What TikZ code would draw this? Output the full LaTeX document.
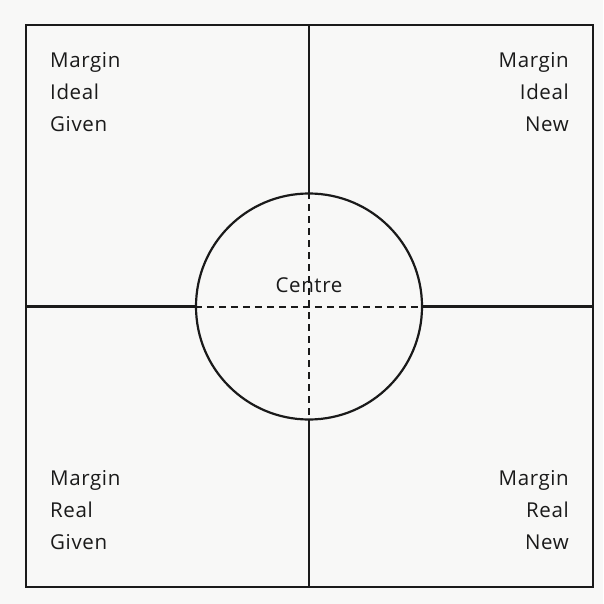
\documentclass[tikz,border=0pt]{standalone}
\usepackage{fontspec}
\setmainfont{Open Sans}[LetterSpace=3]
\definecolor{ink}{HTML}{1A1A1A}
\definecolor{paper}{HTML}{F8F8F7}
\begin{document}
\begin{tikzpicture}[x=1pt,y=-1pt,
  frame/.style={draw=ink,line width=2.2pt},
  divider/.style={draw=ink,line width=2.2pt},
  dashline/.style={draw=ink,line width=2pt,dash pattern=on 7pt off 5pt},
  lbl/.style={font=\fontsize{20.5}{32}\selectfont,text=ink,inner sep=0pt},
  lblL/.style={lbl,align=left,anchor=north west},
  lblR/.style={lbl,align=right,anchor=north east}]
\fill[paper] (0,0) rectangle (603,604);
\useasboundingbox (0,0) rectangle (603,604);
\coordinate (tl) at (26,25);
\coordinate (br) at (593,587);
\coordinate (c) at (309,306.5);
\coordinate (top) at (309,25);
\coordinate (bot) at (309,587);
\coordinate (lft) at (26,306.5);
\coordinate (rgt) at (593,306.5);
\node[circle,draw=ink,line width=2.2pt,minimum size=226pt,inner sep=0pt] (circ) at (c) {};
\draw[frame] (tl) rectangle (br);
\draw[divider] (top) -- (circ.north);
\draw[divider] (circ.south) -- (bot);
\draw[divider] (lft) -- (circ.west);
\draw[divider] (circ.east) -- (rgt);
\draw[dashline] (circ.north) -- (circ.south);
\draw[dashline] (circ.west) -- (circ.east);
\node[lblL] (tlq) at (50,52) {Margin\\Ideal\\Given};
\node[lblR] (trq) at (569,52) {Margin\\Ideal\\New};
\node[lblL] (blq) at (50,470) {Margin\\Real\\Given};
\node[lblR] (brq) at (569,470) {Margin\\Real\\New};
\node[lbl,anchor=base] (centre) at (309,292) {Centre};
\end{tikzpicture}
\end{document}
